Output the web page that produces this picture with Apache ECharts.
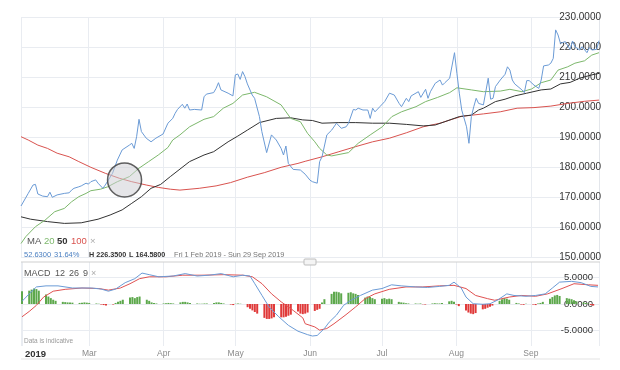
<!DOCTYPE html>
<html><head><meta charset="utf-8">
<script src="https://cdn.jsdelivr.net/npm/echarts@6/dist/echarts.min.js"></script>
<style>html,body{margin:0;padding:0;background:#fff}#c{width:620px;height:370px}</style>
</head><body><div id="c"></div>
<script>
// ---------- DATA ----------
const YEAR = '2019';
const priceDates = ['02-01','02-04','02-06','02-07','02-08','02-10','02-12','02-13','02-14','02-16','02-19','02-21','02-22','02-23','02-25','02-26','02-28','03-01','03-02','03-04','03-05','03-07','03-08','03-11','03-13','03-15','03-18','03-19','03-20','03-21','03-22','03-23','03-25','03-27','03-29','04-01','04-03','04-05','04-06','04-07','04-09','04-10','04-11','04-12','04-14','04-17','04-18','04-19','04-22','04-23','04-24','04-25','04-28','04-30','05-01','05-02','05-03','05-04','05-05','05-06','05-08','05-09','05-11','05-12','05-14','05-16','05-18','05-20','05-21','05-22','05-23','05-25','05-28','05-30','06-01','06-02','06-04','06-05','06-06','06-08','06-10','06-12','06-14','06-16','06-17','06-19','06-20','06-21','06-23','06-25','06-26','06-27','06-28','06-30','07-02','07-04','07-06','07-08','07-09','07-11','07-12','07-13','07-16','07-17','07-19','07-20','07-21','07-23','07-25','07-26','07-27','07-29','07-31','08-01','08-02','08-03','08-05','08-06','08-07','08-08','08-09','08-10','08-12','08-14','08-15','08-16','08-17','08-19','08-21','08-22','08-23','08-24','08-25','08-28','08-29','08-30','08-31','09-02','09-04','09-05','09-06','09-08','09-09','09-10','09-11','09-12','09-13','09-15','09-17','09-18','09-19','09-21','09-22','09-24','09-25','09-26','09-28','09-29'];
const priceValues = [167,171.2,174,174.2,171,170.3,170.1,171.6,169.9,170.7,171.2,171.4,172.3,172.9,173.4,173.7,174.6,174.3,175.1,175.7,174.6,172.9,174,177.9,182.3,185.7,187.3,187.9,186.2,190.1,195.9,191.8,189.6,188.4,189.6,191,194.6,196.2,197.9,199.2,200.9,199.6,201,199,199.2,199,203.4,204.3,204.8,206.2,208.1,205.7,204.6,203.7,210.7,211,209.2,211.8,210.1,207.7,204,202.9,196.8,191.8,184.8,190.7,189,186.2,184,187,181.2,179.2,179,177.6,175.6,175.1,174.6,181.8,183.4,190.7,192.3,194.6,192.9,193.4,194.6,199.2,199,199.6,199,199,196.2,199.6,198.4,200.1,201.8,204.6,204,201.2,200.1,202.9,201.8,203.7,205.1,203.2,205.9,202.9,205.1,207.9,209,207.3,208.1,209.6,218.1,211.2,204.6,199,193.4,187.9,196.8,200.1,202.9,201.2,200.7,209.6,202.6,202.9,206.8,209,210.9,213.4,212.3,209,207.7,205.7,204.8,208.8,208.8,207.3,206.2,209,213.7,214,214.6,216.2,225.7,224,221.2,221.8,219.2,222,220.1,219,220.1,218.1,219.8,219,219.2,222.1];

const ma20Dates = ['02-01','02-03','02-07','02-11','02-15','02-19','02-22','02-25','02-28','03-02','03-06','03-09','03-13','03-18','03-22','03-26','03-30','04-03','04-05','04-08','04-12','04-18','04-22','04-26','04-30','05-04','05-09','05-14','05-20','05-24','05-28','05-31','06-03','06-05','06-08','06-10','06-17','06-21','06-26','07-01','07-05','07-09','07-15','07-19','07-24','07-29','08-01','08-07','08-12','08-19','08-23','08-28','09-01','09-05','09-09','09-12','09-16','09-19','09-23','09-26','09-29'];
const ma20Values = [154.5,156.8,160.1,162.3,165.1,166.2,168.4,170.1,171.2,172.1,172.6,173.4,175.1,176.8,179.6,181.8,184,186.5,189,190.7,193.4,195.9,196.8,199.6,201.2,204,204.9,203.4,200.7,196.2,195.1,191.2,188.4,186.2,184,183.7,184.8,187.9,190.7,193.4,196.8,198.4,200.1,201.8,203.2,204.8,206.4,205.7,205.1,205.3,205.9,205.1,206,208.1,209,212.3,213.4,214.6,215.4,217.3,218.1];

const ma50Dates = ['02-01','02-05','02-12','02-19','02-26','03-05','03-10','03-15','03-19','03-23','03-27','03-31','04-04','04-12','04-18','04-22','04-28','05-02','05-06','05-11','05-18','05-24','05-29','06-02','06-06','06-13','06-20','06-27','07-04','07-11','07-18','07-23','07-27','08-02','08-07','08-10','08-12','08-17','08-21','08-25','08-30','09-05','09-09','09-13','09-17','09-21','09-26','09-29'];
const ma50Values = [163.4,162.6,161.8,161.2,161.4,162.6,164,165.7,167.9,170.1,172.9,174.2,176.8,181.8,184,185.1,188.4,190.3,192.3,194.8,196.2,196.4,195.7,195.5,194.6,194.8,194.8,194.6,194.6,194.2,193.7,194,195.1,196.8,197.3,199,199.6,201.8,202.6,203.7,204.6,205.7,206,207.7,208.2,209.6,210.7,211.2];

const ma100Dates = ['02-01','02-04','02-08','02-12','02-16','02-21','02-25','03-02','03-08','03-14','03-19','03-25','03-30','04-04','04-08','04-16','04-23','04-29','05-06','05-13','05-20','05-27','05-30','06-06','06-13','06-20','06-27','07-04','07-11','07-18','07-25','07-30','08-03','08-12','08-19','08-26','09-02','09-09','09-16','09-23','09-29'];
const ma100Values = [190.1,189,187.3,186.2,184.6,183.4,181.8,179.9,177.9,176.2,175.1,174,173.2,172.6,172.3,172.9,173.7,174.8,176.6,178.1,179.9,181.2,181.9,183.4,185.1,186.8,188.4,189.6,191.4,193.4,194.6,195.9,196.9,197.7,198.4,199.6,199.8,200.3,201.2,201.9,202.3];

const crossDate = '03-16';
const crossValue = 175.7;

const macdDates = ['02-01','02-04','02-07','02-11','02-16','02-22','03-02','03-06','03-09','03-12','03-16','03-20','03-23','03-26','03-30','04-05','04-10','04-15','04-20','04-25','04-30','05-04','05-07','05-09','05-12','05-15','05-19','05-23','05-27','05-31','06-02','06-04','06-07','06-09','06-12','06-15','06-18','06-22','06-27','07-01','07-05','07-09','07-15','07-20','07-25','07-29','07-31','08-03','08-05','08-08','08-12','08-15','08-18','08-22','08-25','08-30','09-03','09-07','09-10','09-13','09-18','09-22','09-26','09-29'];
const macdValues = [0.5,1.9,3.2,3.4,3.4,3.0,3.0,2.8,2.4,2.8,4.0,4.75,5.8,5.5,5.1,5.25,5.7,5.25,5.4,5.7,5.1,5.4,5.25,3.8,1.6,-0.6,-2.4,-4.0,-5.1,-5.75,-6.0,-5.9,-4.6,-3.4,-2.1,-0.25,0.7,1.6,2.6,2.9,3.6,3.4,3.2,3.1,3.3,3.5,4.1,3.0,1.3,0.05,-0.05,0.05,0.7,1.9,1.6,1.45,1.6,1.9,3.0,4.1,4.25,4.0,3.3,3.2];

const signalDates = ['02-01','02-04','02-07','02-10','02-14','02-19','02-26','03-05','03-09','03-14','03-18','03-22','03-26','04-02','04-09','04-17','04-26','05-04','05-08','05-12','05-16','05-20','05-25','05-29','05-30','06-03','06-05','06-08','06-11','06-16','06-20','06-24','06-28','07-04','07-11','07-18','07-25','07-31','08-05','08-09','08-14','08-17','08-23','08-28','09-03','09-08','09-14','09-19','09-25','09-29'];
const signalValues = [-2.4,-1.4,-0.25,1.3,2.4,2.75,3.0,2.9,2.6,3.0,3.8,4.75,5.1,5.1,5.4,5.4,5.5,5.4,5.1,3.8,1.9,0.4,-1.2,-2.6,-3.7,-4.3,-4.9,-4.6,-3.7,-2.0,-0.55,1.0,1.9,2.75,3.2,3.2,3.4,3.5,2.9,1.6,1.0,0.7,1.3,1.6,1.45,1.9,2.9,3.8,3.6,3.5];

// histogram: one value per trading day (Mon-Fri) from Fri 1 Feb 2019
const histValues = [
  2.4,
  2.5,2.7,2.9,2.8,2.5,
  1.8,1.4,1.1,0.8,0.6,
  0.4,0.35,0.3,0.3,0.25,
  0.2,0.25,0.3,0.25,0.2,
  0.1,0.05,-0.1,-0.2,-0.3,
  -0.1,0.2,0.4,0.6,0.8,
  1.2,1.3,1.1,1.3,1.4,
  0.8,0.6,0.3,0.2,0.1,
  0.1,0.15,0.2,0.15,0.1,
  0.3,0.4,0.4,0.3,0.2,
  0.1,0.05,0.05,0.1,0.1,
  0.2,0.3,0.3,0.2,0.1,
  -0.1,-0.2,0.05,0.1,0.05,
  -0.6,-0.9,-1.2,-1.5,-1.8,
  -2.6,-2.8,-2.8,-2.7,-2.5,
  -2.5,-2.5,-2.4,-2.2,-2.0,
  -1.4,-1.8,-1.9,-1.8,-1.6,
  -1.3,-1.1,-0.9,0.3,0.9,
  1.9,2.3,2.3,2.2,2.0,
  2.1,2.2,2.0,1.9,1.7,
  1.2,1.4,1.3,1.1,0.9,
  1.0,1.1,0.9,1.0,0.9,
  0.4,0.3,0.25,0.15,0.1,
  0.1,0.05,0.1,-0.05,-0.1,
  0.1,0.15,0.1,0.1,0.2,
  0.5,0.6,0.4,-0.1,-0.4,
  -1.2,-1.6,-1.8,-1.9,-1.7,
  -1.0,-0.9,-0.7,-0.5,-0.3,
  0.6,0.9,1.1,1.0,0.8,
  0.2,0.1,-0.1,-0.15,0.05,
  -0.1,-0.2,0.1,0.2,0.4,
  1.0,1.3,1.6,1.7,1.5,
  1.1,1.0,0.9,0.7,0.5,
  0.3,0.2,0.1,-0.2,-0.3
];

const monthNames = ['Jan','Feb','Mar','Apr','May','Jun','Jul','Aug','Sep','Oct','Nov','Dec'];
const xMin = '2019-02-01';
const xMax = '2019-09-29';

// ---------- BUILD ----------
const pairs = (ds, vs) => ds.map((d, i) => [YEAR + '-' + d, vs[i]]);
const tradingDays = [];
{
  const d = new Date(2019, 1, 1);
  while (tradingDays.length < histValues.length) {
    const wd = d.getDay();
    if (wd !== 0 && wd !== 6) {
      tradingDays.push(d.getFullYear() + '-' + String(d.getMonth() + 1).padStart(2, '0') + '-' + String(d.getDate()).padStart(2, '0'));
    }
    d.setDate(d.getDate() + 1);
  }
}
const histData = histValues.map((v, i) => ({
  value: [tradingDays[i], v],
  itemStyle: { color: v >= 0 ? '#5da84c' : '#e03a3a' }
}));

const FONT = 'Liberation Sans, Arial, sans-serif';
const gridLineColor = '#e9ecf1';

const chart = echarts.init(document.getElementById('c'), null, { renderer: 'canvas' });

const xAxisCommon = {
  type: 'time', min: xMin, max: xMax, splitNumber: 8,
  axisLine: { show: false }, axisTick: { show: false },
  splitLine: { show: true, lineStyle: { color: gridLineColor, width: 1 } }
};

const txt = (x, y, text, font, fill) => ({
  type: 'text', x: x, y: y, z: 20,
  style: { text: text, font: font + ' ' + FONT, fill: fill, textVerticalAlign: 'middle' }
});

chart.setOption({
  animation: false,
  backgroundColor: '#fff',
  textStyle: { fontFamily: FONT },
  grid: [
    { left: 21, right: 21, top: 17, height: 240 },
    { left: 21, right: 21, top: 262, height: 84 }
  ],
  xAxis: [
    Object.assign({}, xAxisCommon, { gridIndex: 0, axisLabel: { show: false } }),
    Object.assign({}, xAxisCommon, {
      gridIndex: 1,
      axisLabel: {
        show: true, margin: 3, fontSize: 8.5, color: '#8a8a8a', fontFamily: FONT,
        formatter: function (val) {
          const d = new Date(val);
          if (d.getMonth() === 1) return '{y|' + d.getFullYear() + '}';
          return monthNames[d.getMonth()];
        },
        rich: { y: { fontSize: 9.5, fontWeight: 'bold', color: '#333', fontFamily: FONT, padding: [0, 0, 0, 27] } }
      }
    })
  ],
  yAxis: [
    {
      gridIndex: 0, type: 'value', position: 'right', min: 150, max: 230, interval: 10,
      axisLine: { show: true, lineStyle: { color: '#e3e6eb' } }, axisTick: { show: false },
      splitLine: { show: true, lineStyle: { color: gridLineColor } },
      axisLabel: { inside: true, margin: -2, fontSize: 10, color: '#333', fontFamily: FONT,
        formatter: v => v.toFixed(4) }
    },
    {
      gridIndex: 1, type: 'value', position: 'right', min: -7.875, max: 7.875,
      axisLine: { show: false },
      axisTick: { show: false, customValues: [-5, 0, 5] },
      splitLine: { show: true, lineStyle: { color: gridLineColor } },
      axisLabel: { inside: true, margin: 6, fontSize: 9.5, color: '#333', fontFamily: FONT,
        customValues: [-5, 0, 5],
        formatter: v => v.toFixed(4) }
    }
  ],
  series: [
    { type: 'line', xAxisIndex: 0, yAxisIndex: 0, data: pairs(ma100Dates, ma100Values), showSymbol: false, symbol: 'none',
      lineStyle: { color: '#d9534f', width: 1 } },
    { type: 'line', xAxisIndex: 0, yAxisIndex: 0, data: pairs(ma50Dates, ma50Values), showSymbol: false, symbol: 'none',
      lineStyle: { color: '#333333', width: 1 } },
    { type: 'line', xAxisIndex: 0, yAxisIndex: 0, data: pairs(ma20Dates, ma20Values), showSymbol: false, symbol: 'none',
      lineStyle: { color: '#7db86c', width: 1 } },
    { type: 'line', xAxisIndex: 0, yAxisIndex: 0, data: pairs(priceDates, priceValues), showSymbol: false, symbol: 'none',
      lineStyle: { color: '#6b9bd6', width: 1 } },
    { type: 'scatter', xAxisIndex: 0, yAxisIndex: 0, data: [[YEAR + '-' + crossDate, crossValue]], symbolSize: 34, z: 10,
      itemStyle: { color: 'rgba(205,205,210,0.65)', borderColor: '#3a3a3a', borderWidth: 1.5 } },
    { type: 'bar', xAxisIndex: 1, yAxisIndex: 1, data: histData, barWidth: 2 },
    { type: 'line', xAxisIndex: 1, yAxisIndex: 1, data: pairs(signalDates, signalValues), showSymbol: false, symbol: 'none',
      lineStyle: { color: '#e05252', width: 1 } },
    { type: 'line', xAxisIndex: 1, yAxisIndex: 1, data: pairs(macdDates, macdValues), showSymbol: false, symbol: 'none',
      lineStyle: { color: '#6b9bd6', width: 1 } }
  ],
  graphic: [
    { type: 'line', shape: { x1: 21, y1: 262, x2: 600, y2: 262 }, style: { stroke: '#cfcfcf', lineWidth: 1 }, z: 20 },
    { type: 'rect', shape: { x: 304, y: 259, width: 12, height: 6, r: 1 }, style: { fill: '#f4f4f4', stroke: '#bdbdbd', lineWidth: 1 }, z: 21 },
    { type: 'line', shape: { x1: 21, y1: 359, x2: 600, y2: 359 }, style: { stroke: '#e3e3e3', lineWidth: 1 }, z: 20 },
    // MA legend
    txt(27, 241, 'MA', '9.5px', '#555'),
    txt(44, 241, '20', '9.5px', '#7db86c'),
    txt(57, 241, '50', 'bold 9.5px', '#333'),
    txt(71, 241, '100', '9.5px', '#d9534f'),
    txt(90, 241, '×', '9.5px', '#aaa'),
    // stats row
    txt(24, 255, '52.6300', '7.5px', '#4a7fc1'),
    txt(54, 255, '31.64%', '7.5px', '#4a7fc1'),
    txt(89, 255, 'H 226.3500', 'bold 7.2px', '#333'),
    txt(129, 255, 'L 164.5800', 'bold 7.2px', '#333'),
    txt(174, 255, 'Fri 1 Feb 2019 - Sun 29 Sep 2019', '7.3px', '#777'),
    // MACD legend
    txt(24, 274, 'MACD', '9px', '#555'),
    txt(55, 274, '12', '9px', '#555'),
    txt(69, 274, '26', '9px', '#555'),
    txt(83, 274, '9', '9px', '#555'),
    txt(91, 274, '×', '9px', '#aaa'),
    txt(24, 341, 'Data is indicative', '6.5px', '#999')
  ]
});
</script>
</body></html>
